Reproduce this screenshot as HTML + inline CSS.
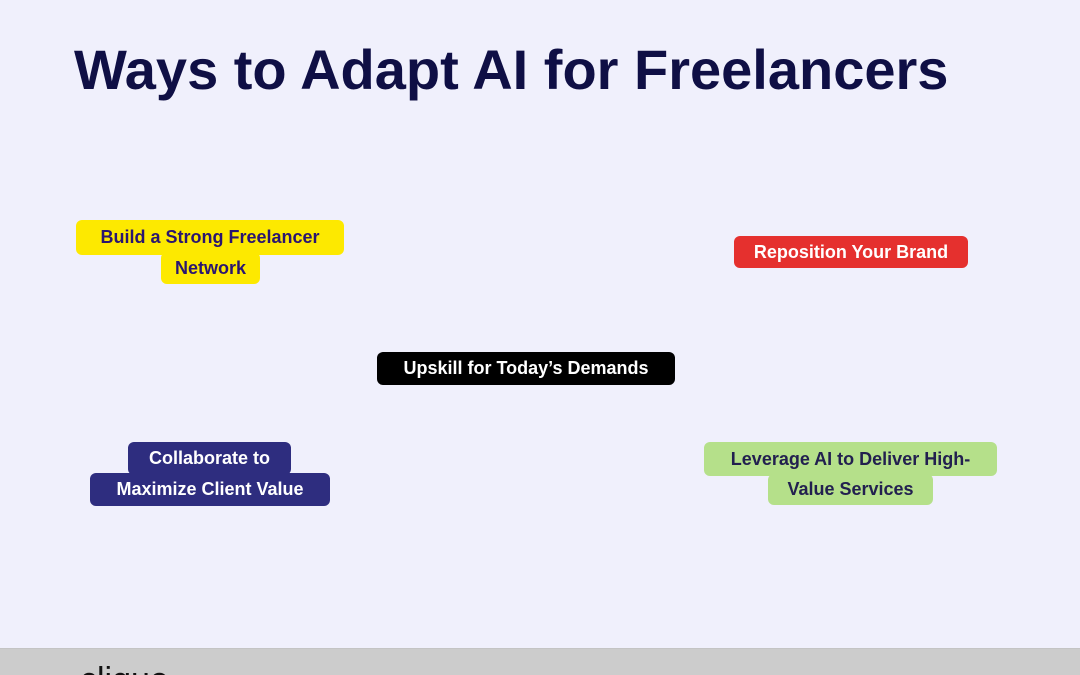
<!DOCTYPE html>
<html><head><meta charset="utf-8"><style>
html,body{margin:0;width:1080px;height:675px;overflow:hidden;}
body{background:#f0f0fc;position:relative;font-family:"Liberation Sans",sans-serif;}
h1{position:absolute;left:74px;top:40px;margin:0;font-size:56px;line-height:60px;font-weight:bold;color:#0f0f45;}
.b{position:absolute;display:flex;align-items:center;justify-content:center;font-weight:bold;font-size:18px;border-radius:6px;white-space:nowrap;}
.y{background:#fde900;color:#2a1570;}
.r{background:#e5302e;color:#fff;}
.k{background:#000;color:#fff;}
.n{background:#2e2d7f;color:#fff;}
.g{background:#b5e08a;color:#22204f;}
.bar{position:absolute;left:0;top:648px;width:1080px;height:27px;background:#cccccc;border-top:1px solid #c4c4c4;overflow:hidden;}
.bar span{position:absolute;left:80px;top:14px;font-size:34px;color:#111;line-height:34px;}
</style></head><body>
<h1>Ways to Adapt AI for Freelancers</h1>
<div class="b y" style="left:76px;top:220px;width:268px;height:35px;">Build a Strong Freelancer</div>
<div class="b y" style="left:161px;top:252px;width:99px;height:32px;">Network</div>
<div class="b r" style="left:734px;top:236px;width:234px;height:32px;">Reposition Your Brand</div>
<div class="b k" style="left:377px;top:352px;width:298px;height:33px;">Upskill for Today’s Demands</div>
<div class="b n" style="left:128px;top:442px;width:163px;height:33px;">Collaborate to</div>
<div class="b n" style="left:90px;top:473px;width:240px;height:33px;">Maximize Client Value</div>
<div class="b g" style="left:704px;top:442px;width:293px;height:34px;">Leverage AI to Deliver High-</div>
<div class="b g" style="left:768px;top:474px;width:165px;height:31px;">Value Services</div>
<div class="bar"><span>clique</span><span style="left:886px;top:16px;font-size:20px;">+</span></div>
</body></html>
